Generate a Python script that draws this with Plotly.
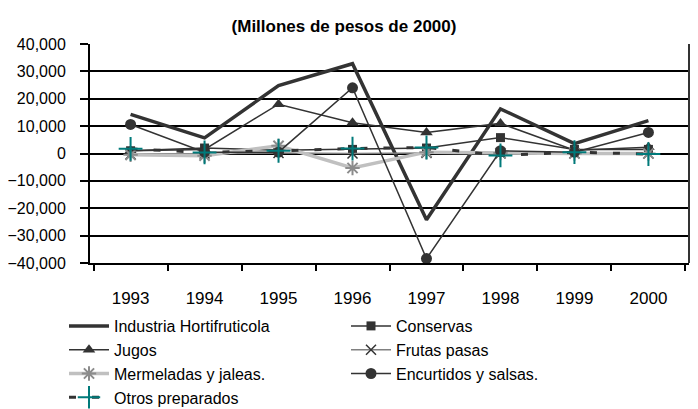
import plotly.graph_objects as go

years = ["1993", "1994", "1995", "1996", "1997", "1998", "1999", "2000"]

industria = [14300, 5700, 24800, 32800, -24200, 16300, 3600, 12000]
conservas = [1000, 2000, 1200, 1500, 2000, 5800, 1500, 1500]
jugos = [1000, 1500, 18000, 11200, 7700, 11000, 1200, 2300]
frutas = [-300, 0, 200, 0, 200, 0, 100, 0]
mermeladas = [-500, -800, 2800, -5300, 500, 200, 0, 0]
encurtidos = [10600, 500, 500, 24000, -38400, 1000, 500, 7700]
otros = [1700, 400, 1000, 1800, 2200, -700, 500, -200]

y_ticks = [40000, 30000, 20000, 10000, 0, -10000, -20000, -30000, -40000]

FONT = "Liberation Sans Narrow, Arial Narrow, Liberation Sans, Arial, sans-serif"
DARK = "#333333"
TEAL = "#007a7a"

# the page body keeps its default 8px margin, so the figure is drawn 8px in
W, H = 690, 401

fig = go.Figure()

fig.add_scatter(
    x=years, y=industria, name="Industria Hortifruticola", mode="lines",
    line=dict(color=DARK, width=3.5),
)
fig.add_scatter(
    x=years, y=conservas, name="Conservas", mode="lines+markers",
    line=dict(color=DARK, width=1.5),
    marker=dict(symbol="square", size=9, color=DARK),
)
fig.add_scatter(
    x=years, y=jugos, name="Jugos", mode="lines+markers",
    line=dict(color=DARK, width=1.5),
    marker=dict(symbol="triangle-up", size=11, color=DARK),
)
fig.add_scatter(
    x=years, y=frutas, name="Frutas pasas", mode="lines+markers",
    line=dict(color="#808080", width=1.5),
    marker=dict(symbol="x-thin-open", size=10, color=DARK, line=dict(width=1.5)),
)
fig.add_scatter(
    x=years, y=mermeladas, name="Mermeladas y jaleas.", mode="lines+markers",
    line=dict(color="#c0c0c0", width=3.5),
    marker=dict(symbol="asterisk-open", size=12, color="#8c8c8c", line=dict(width=2)),
)
fig.add_scatter(
    x=years, y=encurtidos, name="Encurtidos y salsas.", mode="lines+markers",
    line=dict(color=DARK, width=1.5),
    marker=dict(symbol="circle", size=11, color=DARK),
)
fig.add_scatter(
    x=years, y=otros, name="Otros preparados", mode="lines+markers",
    line=dict(color=DARK, width=3, dash="7px,16px"),
    marker=dict(symbol="cross-thin-open", size=17, color=TEAL, line=dict(width=2)),
)

fig.update_layout(
    width=W,
    height=H,
    margin=dict(l=82, r=9, t=36, b=146, autoexpand=False),
    paper_bgcolor="white",
    plot_bgcolor="white",
    font=dict(family=FONT, size=17, color="black"),
    title=dict(
        text="<b>(Millones de pesos de 2000)</b>",
        x=336 / W, xanchor="center", xref="container",
        y=1 - 18 / H, yanchor="middle", yref="container",
        font=dict(size=17),
    ),
    showlegend=True,
    legend=dict(
        orientation="h",
        xref="container", x=56 / W, xanchor="left",
        yref="container", y=1 - 301 / H, yanchor="top",
        entrywidth=227, entrywidthmode="pixels",
        itemwidth=40,
        tracegroupgap=0,
        font=dict(family=FONT, size=16),
        bgcolor="rgba(0,0,0,0)",
    ),
)

fig.update_xaxes(
    type="category",
    showline=True, linecolor="black", linewidth=2,
    tickson="boundaries", ticks="outside", ticklen=6, tickwidth=2, tickcolor="black",
    ticklabelstandoff=19,
    showgrid=False, zeroline=False,
    mirror=False,
)
fig.update_yaxes(
    range=[-40000, 40000],
    tickvals=y_ticks,
    tickformat=",d",
    tickfont=dict(size=16),
    showline=True, linecolor="black", linewidth=2,
    ticks="outside", ticklen=8, tickwidth=2, tickcolor="black",
    ticklabelstandoff=11,
    showgrid=True, gridcolor="black", gridwidth=1.5,
    zeroline=True, zerolinecolor="black", zerolinewidth=1.5,
)

# right border of the plot area
fig.add_shape(type="line", xref="paper", yref="paper", x0=1, x1=1, y0=0, y1=1,
              line=dict(color=DARK, width=2))

fig.write_html("out.html")
